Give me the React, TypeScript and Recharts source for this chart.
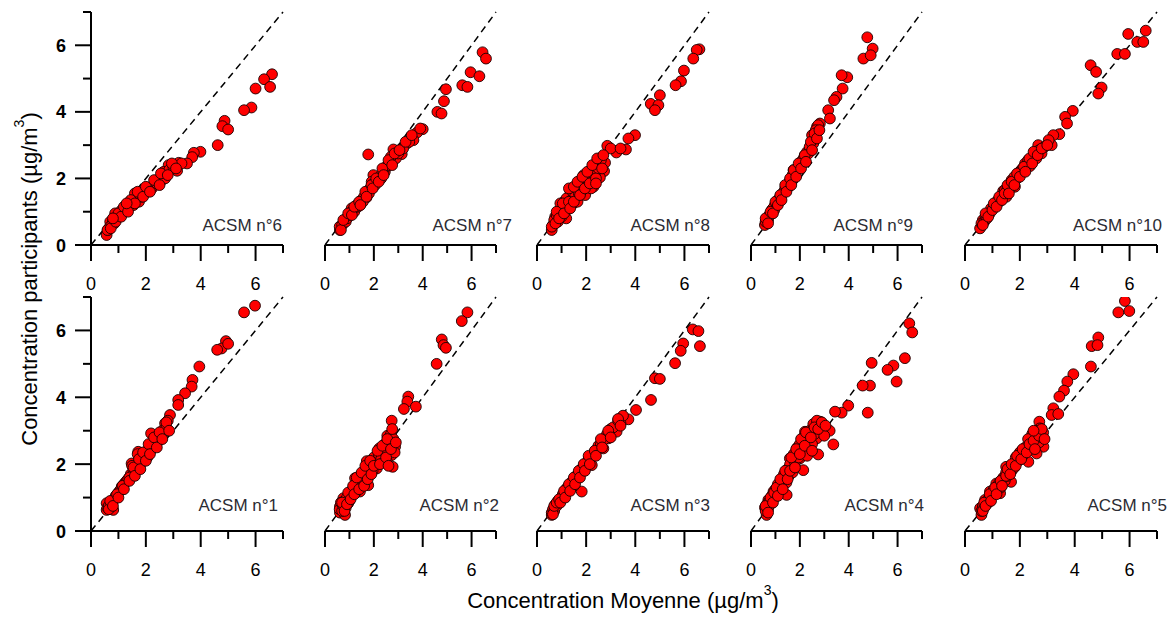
import { ScatterChart, Scatter, XAxis, YAxis, ReferenceLine } from 'recharts';

type Pt = [number, number];

const FONT = '"Liberation Sans", Arial, sans-serif';
const TICKS = [0, 1, 2, 3, 4, 5, 6, 7];
const DIAGONAL = [{ x: 0, y: 0 }, { x: 7, y: 7 }];

// values: [moyenne, participant]
const acsm6: Pt[] = [
  [6.6, 5.13], [6.31, 4.98], [6.53, 4.75], [6.0, 4.7], [5.85, 4.13], [5.58, 4.05], [4.87, 3.73], [4.79, 3.57],
  [5.0, 3.47], [4.62, 3.0], [3.99, 2.8], [3.75, 2.77], [3.69, 2.64], [3.5, 2.45], [3.2, 2.47], [3.14, 2.23],
  [2.83, 2.4], [2.65, 2.2], [2.71, 2.1], [2.53, 1.9], [2.22, 1.7], [1.92, 1.55], [1.67, 1.45], [1.43, 1.3],
  [1.43, 1.15], [1.12, 1.05], [0.88, 0.95], [0.7, 0.7], [0.57, 0.3], [0.62, 0.45], [0.65, 0.5], [0.75, 0.6],
  [0.8, 0.7], [0.85, 0.65], [0.95, 0.8], [1.0, 0.85], [1.05, 0.9], [1.15, 0.95], [1.2, 1.0], [1.25, 1.1],
  [1.3, 1.05], [1.35, 1.15], [1.5, 1.25], [1.55, 1.2], [1.6, 1.35], [1.7, 1.4], [1.75, 1.3], [1.8, 1.5],
  [1.85, 1.45], [1.95, 1.6], [2.05, 1.6], [2.1, 1.7], [2.2, 1.75], [2.3, 1.8], [2.4, 1.85], [2.45, 1.95],
  [2.6, 2.05], [2.7, 2.0], [2.85, 2.25], [3.0, 2.35], [3.3, 2.45], [1.6, 1.55], [1.4, 1.2], [0.7, 0.55],
  [0.6, 0.45], [0.72, 0.5], [0.9, 0.7], [1.0, 0.95], [1.1, 0.85], [1.2, 1.15], [1.35, 1.0], [1.45, 1.35],
  [1.6, 1.25], [1.7, 1.6], [1.9, 1.45], [2.0, 1.75], [2.15, 1.6], [2.3, 1.95], [2.5, 1.8], [2.55, 2.15],
  [2.8, 2.1], [2.95, 2.45], [3.1, 2.3], [1.3, 1.25], [0.8, 0.8],
];

const acsm7: Pt[] = [
  [6.45, 5.79], [6.59, 5.6], [5.96, 5.19], [6.32, 5.07], [5.62, 4.8], [5.83, 4.75], [4.95, 4.68], [4.87, 4.32],
  [4.6, 4.0], [4.77, 3.95], [4.0, 3.48], [3.77, 3.38], [3.62, 3.15], [3.35, 3.05], [3.14, 2.73], [2.8, 2.87],
  [2.73, 2.55], [1.77, 2.72], [2.39, 2.25], [1.98, 2.1], [1.91, 1.9], [1.7, 1.43], [1.43, 1.2], [1.09, 1.1],
  [0.95, 0.85], [0.61, 0.45], [0.75, 0.65], [0.6, 0.55], [0.7, 0.6], [0.8, 0.75], [0.85, 0.7], [0.9, 0.8],
  [1.0, 0.9], [1.05, 0.95], [1.15, 1.05], [1.2, 1.0], [1.3, 1.2], [1.35, 1.15], [1.5, 1.35], [1.55, 1.3],
  [1.6, 1.45], [1.75, 1.6], [1.8, 1.55], [1.85, 1.7], [2.0, 1.85], [2.05, 1.8], [2.15, 1.95], [2.25, 2.05],
  [2.3, 2.0], [2.45, 2.2], [2.5, 2.35], [2.6, 2.4], [2.9, 2.6], [3.0, 2.75], [3.2, 2.9], [3.45, 3.1],
  [3.9, 3.5], [2.7, 2.65], [1.25, 1.15], [0.65, 0.45], [0.75, 0.75], [0.95, 0.95], [1.1, 0.9], [1.2, 1.15],
  [1.4, 1.3], [1.45, 1.2], [1.65, 1.6], [1.7, 1.45], [1.9, 1.8], [1.95, 1.7], [2.1, 2.0], [2.2, 1.9],
  [2.35, 2.3], [2.4, 2.1], [2.6, 2.55], [2.75, 2.4], [2.85, 2.75], [3.05, 2.85], [3.3, 3.1], [3.55, 3.3],
];

const acsm8: Pt[] = [
  [6.61, 5.88], [6.5, 5.86], [6.36, 5.6], [5.98, 5.24], [5.86, 4.92], [5.64, 4.8], [5.0, 4.5], [4.63, 4.24],
  [4.94, 4.2], [4.8, 4.05], [3.99, 3.3], [3.72, 3.2], [3.62, 2.87], [3.25, 2.83], [2.86, 2.98], [3.23, 2.78],
  [2.77, 2.47], [2.46, 2.45], [2.73, 2.22], [2.56, 2.03], [2.05, 2.05], [2.3, 1.75], [1.75, 1.8], [1.96, 1.5],
  [1.34, 1.5], [1.48, 1.25], [1.07, 1.15], [0.95, 0.95], [1.19, 0.8], [0.74, 0.85], [0.6, 0.45], [0.65, 0.6],
  [0.7, 0.75], [0.8, 0.9], [0.85, 0.7], [0.9, 1.0], [1.0, 0.85], [1.0, 1.1], [1.1, 1.3], [1.15, 1.0],
  [1.2, 1.4], [1.25, 1.2], [1.4, 1.35], [1.45, 1.6], [1.55, 1.45], [1.6, 1.7], [1.65, 1.3], [1.7, 1.55],
  [1.8, 1.95], [1.85, 1.65], [1.9, 2.1], [2.0, 1.8], [2.1, 1.9], [2.15, 2.2], [2.2, 1.7], [2.35, 2.1],
  [2.5, 2.3], [2.6, 2.55], [3.0, 2.9], [3.4, 2.9], [1.3, 1.7], [0.95, 1.25], [0.6, 0.55], [0.75, 0.65],
  [0.8, 1.0], [0.9, 0.8], [1.05, 1.25], [1.1, 0.95], [1.3, 1.3], [1.35, 1.1], [1.5, 1.75], [1.5, 1.3],
  [1.65, 1.9], [1.75, 1.5], [1.85, 2.05], [1.95, 1.7], [2.05, 2.2], [2.15, 1.85], [2.25, 2.4], [2.4, 2.0],
  [2.45, 2.6], [2.65, 2.3], [2.7, 2.7], [2.4, 1.85],
];

const acsm9: Pt[] = [
  [4.76, 6.24], [4.98, 5.9], [4.6, 5.6], [4.9, 5.7], [3.94, 5.04], [3.71, 5.1], [3.75, 4.7], [3.5, 4.45],
  [3.4, 4.35], [3.16, 4.05], [3.23, 3.8], [2.82, 3.65], [2.72, 3.4], [2.62, 3.27], [2.48, 2.85], [2.21, 2.7],
  [2.0, 2.4], [1.74, 2.25], [1.6, 1.95], [1.4, 1.7], [1.2, 1.45], [0.98, 1.2], [0.84, 0.95], [0.64, 0.75],
  [0.57, 0.6], [0.6, 0.7], [0.65, 0.8], [0.7, 0.75], [0.75, 0.9], [0.85, 1.05], [0.9, 1.1], [0.95, 1.05],
  [1.05, 1.25], [1.1, 1.35], [1.15, 1.3], [1.25, 1.5], [1.3, 1.55], [1.35, 1.6], [1.45, 1.75], [1.5, 1.8],
  [1.55, 1.75], [1.65, 1.95], [1.7, 2.1], [1.8, 2.1], [1.85, 2.25], [1.9, 2.3], [2.05, 2.5], [2.1, 2.45],
  [2.15, 2.6], [2.3, 2.8], [2.35, 2.75], [2.4, 2.95], [2.55, 3.05], [2.6, 3.2], [2.7, 3.55], [2.75, 3.6],
  [2.5, 3.3], [2.65, 3.45], [0.6, 0.8], [0.7, 0.65], [0.8, 1.0], [0.9, 0.95], [1.0, 1.3], [1.1, 1.2],
  [1.2, 1.5], [1.25, 1.35], [1.4, 1.8], [1.45, 1.6], [1.6, 2.0], [1.65, 1.8], [1.75, 2.25], [1.85, 2.05],
  [1.95, 2.45], [2.05, 2.3], [2.2, 2.7], [2.25, 2.5], [2.45, 3.1], [2.5, 2.85], [2.6, 3.35], [2.7, 3.2],
  [2.8, 3.45],
];

const acsm10: Pt[] = [
  [6.59, 6.44], [5.95, 6.34], [6.28, 6.1], [6.5, 6.1], [5.55, 5.74], [5.83, 5.74], [4.58, 5.4], [4.78, 5.2],
  [4.98, 4.73], [4.86, 4.55], [3.93, 4.03], [3.65, 3.85], [3.72, 3.65], [3.44, 3.33], [3.22, 3.3], [3.16, 3.0],
  [2.67, 3.0], [2.79, 2.75], [2.49, 2.67], [2.19, 2.45], [2.37, 2.37], [2.0, 2.2], [1.7, 1.95], [1.82, 1.75],
  [1.39, 1.62], [1.51, 1.45], [1.14, 1.25], [0.9, 1.0], [0.65, 0.75], [0.55, 0.5], [0.6, 0.65], [0.7, 0.7],
  [0.75, 0.85], [0.8, 0.8], [0.9, 0.95], [0.95, 1.1], [1.05, 1.15], [1.1, 1.2], [1.2, 1.35], [1.25, 1.3],
  [1.3, 1.45], [1.4, 1.5], [1.45, 1.65], [1.55, 1.7], [1.6, 1.65], [1.65, 1.85], [1.75, 1.85], [1.8, 2.05],
  [1.9, 2.0], [1.95, 2.15], [2.05, 2.25], [2.1, 2.3], [2.25, 2.4], [2.3, 2.55], [2.4, 2.5], [2.55, 2.75],
  [2.6, 2.6], [2.7, 2.85], [2.9, 2.95], [3.05, 3.15], [1.5, 1.55], [0.65, 0.6], [0.75, 0.95], [0.85, 0.85],
  [1.0, 1.05], [1.05, 1.25], [1.15, 1.15], [1.25, 1.45], [1.35, 1.35], [1.45, 1.55], [1.55, 1.8], [1.6, 1.55],
  [1.7, 1.9], [1.8, 1.8], [1.9, 2.15], [2.0, 2.05], [2.15, 2.35], [2.2, 2.2], [2.35, 2.6], [2.45, 2.45],
  [2.5, 2.8], [2.65, 2.7], [2.8, 2.9], [3.0, 3.0],
];

const acsm1: Pt[] = [
  [5.98, 6.74], [5.58, 6.54], [4.92, 5.68], [4.76, 5.46], [4.6, 5.42], [5.0, 5.6], [3.95, 4.92], [3.7, 4.52],
  [3.67, 4.32], [3.43, 4.12], [3.18, 3.92], [3.18, 3.77], [2.88, 3.47], [2.7, 3.22], [2.52, 2.77], [2.19, 2.92],
  [2.25, 2.62], [1.91, 2.17], [1.72, 2.37], [1.67, 1.88], [1.42, 1.62], [1.48, 2.02], [1.12, 1.33], [0.95, 1.0],
  [0.57, 0.83], [0.57, 0.63], [0.81, 0.63], [0.6, 0.7], [0.65, 0.75], [0.75, 0.8], [0.85, 0.95], [0.9, 1.05],
  [1.0, 1.15], [1.05, 1.2], [1.1, 1.25], [1.2, 1.4], [1.25, 1.45], [1.3, 1.5], [1.35, 1.55], [1.45, 1.7],
  [1.55, 1.8], [1.6, 1.75], [1.65, 1.95], [1.75, 2.05], [1.8, 2.0], [1.85, 2.2], [1.95, 2.25], [2.0, 2.3],
  [2.05, 2.2], [2.1, 2.45], [2.2, 2.5], [2.3, 2.6], [2.35, 2.55], [2.4, 2.8], [2.55, 2.9], [2.6, 3.0],
  [2.65, 2.95], [2.75, 3.1], [2.8, 3.3], [1.7, 2.3], [1.5, 1.95], [0.65, 0.65], [0.7, 0.9], [0.8, 0.75],
  [0.95, 1.1], [1.0, 1.0], [1.15, 1.35], [1.2, 1.25], [1.4, 1.6], [1.4, 1.5], [1.55, 1.9], [1.6, 1.65],
  [1.75, 2.15], [1.8, 1.85], [1.9, 2.35], [2.0, 2.1], [2.1, 2.6], [2.15, 2.3], [2.3, 2.8], [2.4, 2.5],
  [2.5, 2.95], [2.6, 2.75], [2.75, 3.25], [2.85, 3.0],
];

const acsm2: Pt[] = [
  [5.83, 6.54], [5.6, 6.28], [4.78, 5.73], [4.85, 5.56], [4.95, 5.48], [4.57, 5.0], [3.41, 4.02], [3.37, 3.87],
  [3.23, 3.65], [3.72, 3.72], [2.73, 3.3], [2.55, 2.85], [2.87, 2.52], [2.22, 2.47], [2.73, 2.27], [2.52, 2.12],
  [2.77, 1.92], [1.71, 2.09], [2.12, 1.87], [1.77, 1.67], [1.23, 1.58], [1.77, 1.37], [1.16, 1.28], [1.43, 1.18],
  [0.75, 0.98], [0.95, 0.83], [0.61, 0.73], [0.61, 0.55], [0.82, 0.48], [0.6, 0.65], [0.65, 0.85], [0.7, 0.6],
  [0.75, 0.75], [0.8, 0.9], [0.85, 0.7], [0.9, 1.0], [1.0, 0.9], [1.0, 1.1], [1.1, 1.2], [1.2, 1.35],
  [1.25, 1.15], [1.3, 1.45], [1.35, 1.3], [1.45, 1.55], [1.5, 1.4], [1.55, 1.7], [1.6, 1.5], [1.7, 1.85],
  [1.8, 1.75], [1.9, 2.0], [1.95, 1.8], [2.0, 2.2], [2.1, 2.05], [2.2, 2.3], [2.3, 2.15], [2.4, 2.4],
  [2.45, 2.6], [2.55, 2.35], [2.6, 2.7], [2.65, 2.55], [2.7, 2.9], [2.8, 2.75], [2.85, 2.35], [2.4, 2.05],
  [0.7, 0.85], [0.8, 0.6], [0.9, 0.8], [0.95, 1.15], [1.05, 0.95], [1.15, 1.35], [1.2, 1.1], [1.3, 1.6],
  [1.4, 1.25], [1.5, 1.75], [1.6, 1.35], [1.65, 1.95], [1.75, 1.55], [1.85, 2.1], [1.9, 1.7], [2.0, 1.95],
  [2.15, 2.4], [2.25, 2.0], [2.35, 2.55], [2.5, 2.2], [2.55, 2.75], [2.7, 2.45], [2.75, 3.05], [2.9, 2.65],
  [2.6, 1.95],
];

const acsm3: Pt[] = [
  [6.34, 6.03], [6.57, 5.98], [6.63, 5.53], [5.95, 5.61], [5.85, 5.39], [5.62, 5.02], [4.8, 4.57], [5.0, 4.55],
  [4.64, 3.92], [4.03, 3.62], [3.72, 3.34], [3.4, 3.22], [3.24, 2.97], [2.9, 2.77], [2.7, 2.47], [2.36, 2.37],
  [2.23, 1.97], [1.75, 1.77], [1.82, 1.18], [1.48, 1.52], [1.21, 1.28], [0.94, 0.93], [0.73, 0.73], [0.6, 0.48],
  [0.6, 0.55], [0.65, 0.65], [0.7, 0.6], [0.75, 0.8], [0.8, 0.75], [0.85, 0.9], [0.9, 0.85], [1.0, 1.0],
  [1.05, 1.1], [1.1, 1.05], [1.2, 1.2], [1.25, 1.3], [1.3, 1.25], [1.4, 1.4], [1.45, 1.5], [1.55, 1.55],
  [1.6, 1.65], [1.7, 1.7], [1.8, 1.85], [1.85, 1.8], [1.95, 2.0], [2.0, 1.95], [2.1, 2.15], [2.2, 2.2],
  [2.3, 2.3], [2.45, 2.45], [2.5, 2.55], [2.6, 2.6], [2.75, 2.75], [2.85, 2.9], [3.0, 3.05], [3.1, 3.1],
  [3.3, 3.3], [3.5, 3.45], [1.5, 1.35], [0.65, 0.5], [0.7, 0.75], [0.8, 0.85], [0.9, 0.95], [0.95, 0.85],
  [1.1, 1.2], [1.15, 1.0], [1.3, 1.4], [1.35, 1.2], [1.5, 1.6], [1.55, 1.4], [1.7, 1.8], [1.75, 1.6],
  [1.9, 2.0], [1.95, 1.8], [2.1, 2.25], [2.15, 2.0], [2.35, 2.4], [2.4, 2.25], [2.6, 2.75], [2.65, 2.5],
  [2.9, 3.0], [3.0, 2.8], [3.3, 3.35], [3.4, 3.15],
];

const acsm4: Pt[] = [
  [6.48, 6.21], [6.6, 5.94], [6.3, 5.17], [5.83, 4.95], [5.59, 4.82], [5.96, 4.47], [4.94, 5.03], [4.87, 4.35],
  [4.57, 4.35], [4.78, 3.54], [3.98, 3.75], [3.71, 3.54], [3.44, 3.57], [3.37, 2.59], [3.22, 3.0], [2.83, 3.27],
  [2.66, 3.17], [2.21, 2.97], [2.69, 2.77], [2.75, 2.29], [2.28, 2.47], [2.0, 2.17], [1.73, 1.92], [2.14, 1.82],
  [1.59, 2.17], [1.46, 1.58], [1.19, 1.38], [0.92, 1.18], [0.71, 0.93], [0.57, 0.7], [0.64, 0.48], [1.46, 1.08],
  [0.6, 0.6], [0.65, 0.8], [0.7, 0.65], [0.75, 0.9], [0.8, 0.8], [0.85, 1.05], [0.9, 0.95], [1.0, 1.25],
  [1.05, 1.1], [1.1, 1.4], [1.15, 1.2], [1.25, 1.5], [1.3, 1.35], [1.35, 1.7], [1.45, 1.45], [1.5, 1.85],
  [1.55, 1.65], [1.6, 2.0], [1.7, 1.75], [1.75, 2.3], [1.8, 2.05], [1.9, 2.5], [1.95, 2.2], [2.0, 2.6],
  [2.1, 2.4], [2.15, 2.8], [2.3, 2.7], [2.4, 3.0], [2.5, 2.6], [2.55, 3.2], [2.6, 2.9], [2.7, 3.3],
  [2.8, 3.1], [3.0, 2.85], [2.3, 2.25], [0.6, 0.75], [0.7, 0.55], [0.8, 1.0], [0.9, 0.85], [0.95, 1.15],
  [1.05, 1.3], [1.1, 1.05], [1.2, 1.55], [1.3, 1.25], [1.4, 1.8], [1.5, 1.55], [1.6, 1.8], [1.65, 2.2],
  [1.8, 1.9], [1.85, 2.45], [2.0, 2.3], [2.05, 2.75], [2.2, 2.55], [2.25, 2.95], [2.45, 2.8], [2.6, 3.1],
  [2.75, 3.05], [2.9, 3.25], [3.05, 3.15], [2.5, 2.4],
];

const acsm5: Pt[] = [
  [5.83, 6.88], [5.59, 6.54], [5.99, 6.58], [4.86, 5.79], [4.62, 5.53], [4.83, 5.56], [4.59, 4.92], [3.95, 4.69],
  [3.73, 4.47], [3.61, 4.2], [3.44, 4.02], [3.22, 3.67], [3.16, 3.47], [3.4, 3.5], [2.71, 3.27], [2.73, 3.07],
  [2.53, 2.82], [2.86, 2.52], [2.61, 2.32], [2.19, 2.42], [1.88, 2.07], [2.31, 2.07], [1.5, 1.92], [1.68, 1.47],
  [1.38, 1.57], [1.14, 1.42], [0.91, 1.18], [1.28, 1.13], [0.73, 0.93], [0.55, 0.68], [0.6, 0.48], [0.6, 0.6],
  [0.65, 0.75], [0.7, 0.7], [0.8, 0.9], [0.85, 0.85], [0.9, 1.0], [1.0, 1.1], [1.05, 1.25], [1.1, 1.15],
  [1.2, 1.35], [1.25, 1.45], [1.3, 1.3], [1.4, 1.6], [1.45, 1.5], [1.5, 1.75], [1.55, 1.65], [1.6, 1.85],
  [1.7, 1.8], [1.75, 2.0], [1.8, 1.9], [1.85, 2.2], [1.95, 2.1], [2.0, 2.35], [2.1, 2.25], [2.2, 2.5],
  [2.3, 2.4], [2.4, 2.65], [2.5, 2.55], [2.6, 2.75], [2.7, 2.65], [2.8, 2.8], [2.85, 2.95], [2.65, 3.0],
  [2.45, 2.9], [2.3, 2.75], [0.65, 0.6], [0.7, 0.85], [0.75, 0.75], [0.9, 1.1], [0.95, 0.9], [1.1, 1.3],
  [1.15, 1.1], [1.3, 1.5], [1.35, 1.35], [1.5, 1.65], [1.55, 1.85], [1.65, 1.7], [1.7, 2.0], [1.85, 1.95],
  [1.9, 2.25], [2.05, 2.15], [2.1, 2.45], [2.25, 2.35], [2.35, 2.6], [2.5, 2.7], [2.55, 2.45], [2.7, 2.85],
  [2.8, 3.05], [2.9, 2.75], [2.5, 3.0],
];

const panels = [
  { name: 'ACSM n°6', pts: acsm6, left: 91, top: 12, w: 192, h: 233, labelX: 282, labelY: 231, showY: true },
  { name: 'ACSM n°7', pts: acsm7, left: 325, top: 12, w: 171, h: 233, labelX: 512, labelY: 231, showY: false },
  { name: 'ACSM n°8', pts: acsm8, left: 537, top: 12, w: 172, h: 233, labelX: 710, labelY: 231, showY: false },
  { name: 'ACSM n°9', pts: acsm9, left: 751, top: 12, w: 171, h: 233, labelX: 913, labelY: 231, showY: false },
  { name: 'ACSM n°10', pts: acsm10, left: 965, top: 12, w: 192, h: 233, labelX: 1162, labelY: 231, showY: false },
  { name: 'ACSM n°1', pts: acsm1, left: 91, top: 297, w: 192, h: 234, labelX: 278, labelY: 511, showY: true },
  { name: 'ACSM n°2', pts: acsm2, left: 325, top: 297, w: 171, h: 234, labelX: 499, labelY: 511, showY: false },
  { name: 'ACSM n°3', pts: acsm3, left: 537, top: 297, w: 172, h: 234, labelX: 710, labelY: 511, showY: false },
  { name: 'ACSM n°4', pts: acsm4, left: 751, top: 297, w: 171, h: 234, labelX: 924, labelY: 511, showY: false },
  { name: 'ACSM n°5', pts: acsm5, left: 965, top: 297, w: 192, h: 234, labelX: 1167, labelY: 511, showY: false },
];

const XTick = ({ x, y, payload }: any) => {
  const major = payload.value % 2 === 0;
  return (
    <g>
      <line x1={x} y1={y} x2={x} y2={y + (major ? 16 : 8)} stroke="#000" strokeWidth={2} />
      {major && (
        <text x={x} y={y + 45} textAnchor="middle" fontSize={18} fontFamily={FONT} fill="#000">
          {payload.value}
        </text>
      )}
    </g>
  );
};

const YTick = ({ x, y, payload }: any) => {
  const major = payload.value % 2 === 0;
  return (
    <g>
      <line x1={x} y1={y} x2={x - (major ? 16 : 8)} y2={y} stroke="#000" strokeWidth={2} />
      {major && (
        <text x={x - 25} y={y + 6.5} textAnchor="end" fontSize={18} fontWeight="bold" fontFamily={FONT} fill="#000">
          {payload.value}
        </text>
      )}
    </g>
  );
};

const Dot = (props: any) => (
  <circle cx={props.cx} cy={props.cy} r={5.4} fill="#ff0000" stroke="#1a0000" strokeWidth={0.9} />
);

function Panel({ p }: { p: (typeof panels)[number] }) {
  const yw = p.showY ? 60 : 0;
  const padL = yw + 5;
  const data = p.pts.map(([x, y]) => ({ x, y }));
  return (
    <div style={{ position: 'absolute', left: p.left - padL, top: p.top - 5 }}>
      <ScatterChart
        width={padL + p.w + 10}
        height={5 + p.h + 50}
        margin={{ top: 5, right: 10, bottom: 0, left: 5 }}
      >
        <XAxis
          type="number"
          dataKey="x"
          domain={[0, 7]}
          ticks={TICKS}
          interval={0}
          height={50}
          tickSize={0}
          tickMargin={0}
          tickLine={false}
          axisLine={{ stroke: '#000', strokeWidth: 2 }}
          tick={(t: any) => <XTick {...t} />}
          allowDataOverflow
        />
        <YAxis
          type="number"
          dataKey="y"
          domain={[0, 7]}
          ticks={TICKS}
          interval={0}
          width={yw}
          hide={!p.showY}
          tickSize={0}
          tickMargin={0}
          tickLine={false}
          axisLine={{ stroke: '#000', strokeWidth: 2 }}
          tick={(t: any) => <YTick {...t} />}
          allowDataOverflow
        />
        <ReferenceLine
          segment={DIAGONAL}
          stroke="#000"
          strokeWidth={1.5}
          strokeDasharray="7 5"
          ifOverflow="visible"
        />
        <Scatter data={data} shape={(s: any) => <Dot {...s} />} isAnimationActive={false} />
      </ScatterChart>
    </div>
  );
}

export default function App() {
  return (
    <div style={{ position: 'absolute', left: 0, top: 0, width: 1176, height: 619, background: '#fff', fontFamily: FONT }}>
      {panels.map((p) => (
        <Panel key={p.name} p={p} />
      ))}
      <svg width={1176} height={619} style={{ position: 'absolute', left: 0, top: 0, pointerEvents: 'none' }}>
        {panels.map((p) => (
          <text key={p.name} x={p.labelX} y={p.labelY} textAnchor="end" fontSize={17} fontFamily={FONT} fill="#2b2b33">
            {p.name}
          </text>
        ))}
        <text x={623} y={608} textAnchor="middle" fontSize={22} fontFamily={FONT} fill="#000">
          Concentration Moyenne (µg/m
          <tspan fontSize={14} dy={-13}>3</tspan>
          <tspan dy={13}>)</tspan>
        </text>
        <text
          x={37}
          y={279}
          transform="rotate(-90 37 279)"
          textAnchor="middle"
          fontSize={22}
          fontFamily={FONT}
          fill="#000"
        >
          Concentration participants (µg/m
          <tspan fontSize={14} dy={-13}>3</tspan>
          <tspan dy={13}>)</tspan>
        </text>
      </svg>
    </div>
  );
}
